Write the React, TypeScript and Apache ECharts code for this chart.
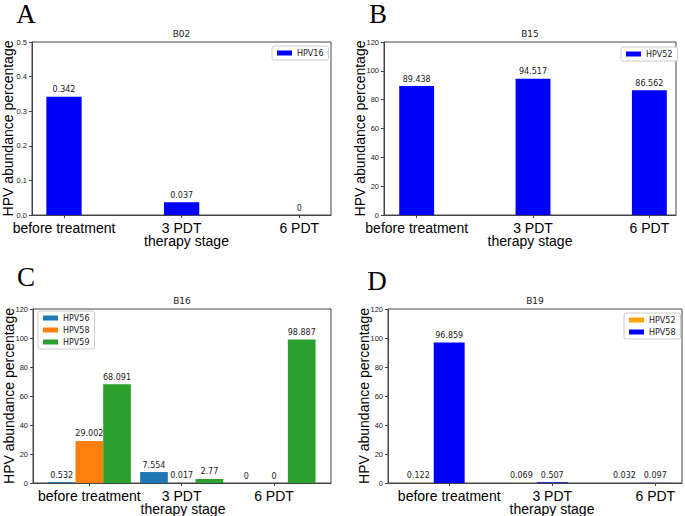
import React, { useEffect, useRef } from "react";
import * as echarts from "echarts";

const categories = ["before treatment", "3 PDT", "6 PDT"];

const b02HPV16 = [0.342, 0.037, 0];
const b15HPV52 = [89.438, 94.517, 86.562];
const b16HPV56 = [0.532, 7.554, 0];
const b16HPV58 = [29.002, 0.017, 0];
const b16HPV59 = [68.091, 2.77, 98.887];
const b19HPV52 = [0.122, 0.069, 0.032];
const b19HPV58 = [96.859, 0.507, 0.097];

const BAR = 0.3;

const panels = [
  {
    key: "A", title: "B02",
    grid: { left: 32, top: 42, width: 299, height: 173 },
    xMin: -0.272, xMax: 2.27, yMax: 0.5, yInt: 0.1, dec: 1,
    legend: { left: 272, top: 46, orient: "horizontal" },
    letter: { x: 26, y: 13.5 }, nameShift: 10,
    series: [{ name: "HPV16", values: b02HPV16, color: "#0000ff", offset: 0 }],
  },
  {
    key: "B", title: "B15",
    grid: { left: 384, top: 42, width: 292, height: 173 },
    xMin: -0.281, xMax: 2.229, yMax: 120, yInt: 20, dec: 0,
    legend: { left: 621, top: 47, orient: "horizontal" },
    letter: { x: 378, y: 13.5 }, nameShift: 0,
    series: [{ name: "HPV52", values: b15HPV52, color: "#0000ff", offset: 0 }],
  },
  {
    key: "C", title: "B16",
    grid: { left: 33, top: 309, width: 298, height: 174 },
    xMin: -0.61, xMax: 2.617, yMax: 120, yInt: 20, dec: 0,
    legend: { left: 38, top: 311, orient: "vertical" },
    letter: { x: 26, y: 277 }, nameShift: 2,
    series: [
      { name: "HPV56", values: b16HPV56, color: "#1f77b4", offset: -BAR },
      { name: "HPV58", values: b16HPV58, color: "#ff7f0e", offset: 0 },
      { name: "HPV59", values: b16HPV59, color: "#2ca02c", offset: BAR },
    ],
  },
  {
    key: "D", title: "B19",
    grid: { left: 388, top: 309, width: 294, height: 174 },
    xMin: -0.594, xMax: 2.259, yMax: 120, yInt: 20, dec: 0,
    legend: { left: 624, top: 313, orient: "vertical" },
    letter: { x: 377, y: 280.5 }, nameShift: 34,
    series: [
      { name: "HPV52", values: b19HPV52, color: "#ffa500", offset: -BAR },
      { name: "HPV58", values: b19HPV58, color: "#0000ff", offset: 0 },
    ],
  },
];

const AXIS_COLOR = "#444";
const SANS = "Liberation Sans";
const DEJAVU = "DejaVu Sans";

export default function App() {
  const ref = useRef<HTMLDivElement>(null);

  useEffect(() => {
    if (!ref.current) return;
    const chart = echarts.init(ref.current, undefined, { renderer: "svg" });

    const grids: any[] = [];
    const xAxes: any[] = [];
    const yAxes: any[] = [];
    const legends: any[] = [];
    const series: any[] = [];
    const graphics: any[] = [];

    panels.forEach((p, gi) => {
      grids.push({
        ...p.grid,
        show: true,
        borderColor: AXIS_COLOR,
        borderWidth: 1,
        backgroundColor: "transparent",
        containLabel: false,
        outerBoundsMode: "none",
      });
      xAxes.push({
        type: "value",
        gridIndex: gi,
        min: p.xMin,
        max: p.xMax,
        splitLine: { show: false },
        axisLine: { show: true, onZero: false, lineStyle: { color: AXIS_COLOR, width: 1 } },
        axisTick: { show: true, length: 3, customValues: [0, 1, 2], lineStyle: { color: AXIS_COLOR } },
        axisLabel: {
          show: true,
          customValues: [0, 1, 2],
          margin: 6,
          fontSize: 14,
          lineHeight: 13,
          fontFamily: SANS,
          color: "#000",
          formatter: (v: number) => categories[Math.round(v)] ?? "",
        },
        name: "therapy stage",
        nameLocation: "middle",
        nameGap: 19.5,
        nameMoveOverlap: false,
        nameTextStyle: {
          fontSize: 14,
          lineHeight: 13,
          fontFamily: SANS,
          color: "#000",
          padding: [0, 0, 0, p.nameShift],
        },
      });
      yAxes.push({
        type: "value",
        gridIndex: gi,
        min: 0,
        max: p.yMax,
        interval: p.yInt,
        splitLine: { show: false },
        axisLine: { show: true, onZero: false, lineStyle: { color: AXIS_COLOR, width: 1 } },
        axisTick: { show: true, length: 3, lineStyle: { color: AXIS_COLOR } },
        axisLabel: {
          margin: 5,
          fontSize: 7.5,
          fontFamily: SANS,
          color: "#222",
          formatter: (v: number) => v.toFixed(p.dec),
        },
        name: "HPV abundance percentage",
        nameLocation: "middle",
        nameGap: 17,
        nameMoveOverlap: false,
        nameTextStyle: { fontSize: 14, fontFamily: SANS, color: "#000" },
      });
      legends.push({
        left: p.legend.left,
        top: p.legend.top,
        orient: p.legend.orient,
        data: p.series.map((s) => p.key + "|" + s.name),
        formatter: (n: string) => n.split("|")[1],
        icon: "rect",
        itemWidth: 15,
        itemHeight: 5,
        itemGap: 4,
        padding: [3, 5, 3, 5],
        borderColor: "#ccc",
        borderWidth: 1,
        borderRadius: 2,
        backgroundColor: "#fff",
        selectedMode: false,
        textStyle: { fontSize: 8, fontFamily: DEJAVU, color: "#222" },
      });
      const unit = p.grid.width / (p.xMax - p.xMin);
      p.series.forEach((s) => {
        series.push({
          type: "bar",
          name: p.key + "|" + s.name,
          xAxisIndex: gi,
          yAxisIndex: gi,
          data: s.values.map((v, i) => [i + s.offset, v]),
          barWidth: BAR * unit,
          barGap: "-100%",
          itemStyle: { color: s.color },
          label: {
            show: true,
            position: "top",
            distance: 3,
            fontSize: 8,
            fontFamily: DEJAVU,
            color: "#222",
            formatter: (prm: any) => String(prm.value[1]),
          },
        });
      });
      graphics.push({
        type: "text",
        x: p.grid.left + p.grid.width / 2,
        y: p.grid.top - 8,
        style: {
          text: p.title,
          fontSize: 9,
          fontFamily: DEJAVU,
          fill: "#222",
          align: "center",
          verticalAlign: "middle",
        },
      });
      graphics.push({
        type: "text",
        x: p.letter.x,
        y: p.letter.y,
        style: {
          text: p.key,
          fontSize: 27,
          fontFamily: "Liberation Serif",
          fill: "#000",
          align: "center",
          verticalAlign: "middle",
        },
      });
    });

    chart.setOption({
      animation: false,
      backgroundColor: "#fff",
      grid: grids,
      xAxis: xAxes,
      yAxis: yAxes,
      legend: legends,
      series,
      graphic: graphics,
    });

    return () => chart.dispose();
  }, []);

  return (
    <div
      ref={ref}
      style={{ position: "fixed", left: 0, top: 0, width: 685, height: 516, background: "#fff" }}
    />
  );
}
